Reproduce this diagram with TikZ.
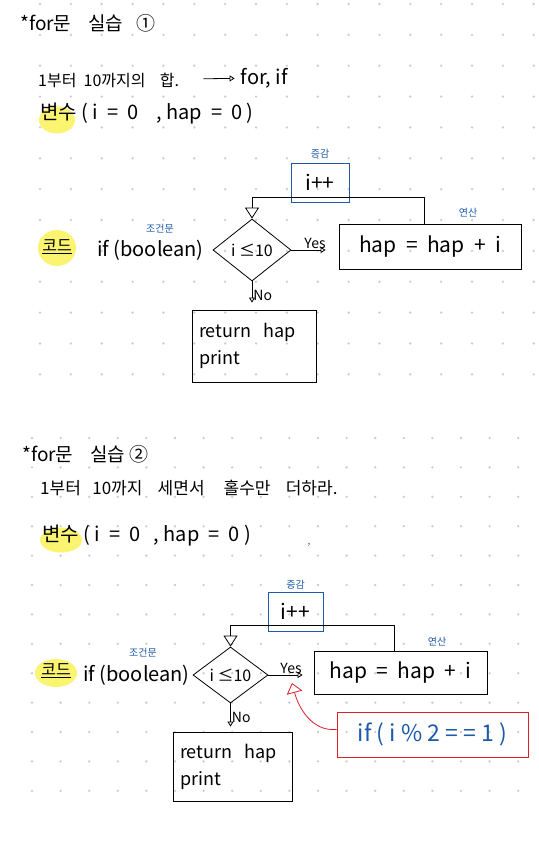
\documentclass[tikz,border=0pt]{standalone}
\usepackage{fontspec}
\setmainfont{Noto Sans CJK KR}
\usetikzlibrary{positioning, arrows.meta, shapes.geometric, backgrounds}
\definecolor{inkBlue}{RGB}{30,90,170}
\definecolor{inkRed}{RGB}{222,32,44}
\definecolor{hlYellow}{RGB}{250,244,112}
\definecolor{gridDot}{RGB}{205,205,205}
\tikzset{
  titleText/.style={font=\fontsize{19}{21}\selectfont, inner sep=0pt},
  handText/.style={font=\fontsize{16}{18}\selectfont, inner sep=0pt},
  codeText/.style={font=\fontsize{20}{22}\selectfont, inner sep=0pt},
  noteLabel/.style={font=\fontsize{10}{11}\selectfont, text=inkBlue, inner sep=0pt},
  edgeText/.style={font=\fontsize{14}{15}\selectfont, inner sep=1pt},
  % Highlighter marks
  hlMark/.style={ellipse, fill=hlYellow, inner sep=0pt},
  % Flowchart boxes
  incBox/.style={draw=inkBlue, thick, font=\fontsize{21}{23}\selectfont, inner sep=0pt},
  decision/.style={draw, thick, diamond, inner sep=0pt, font=\fontsize{16}{18}\selectfont},
  opBox/.style={draw, thick, font=\fontsize{21}{23}\selectfont, inner sep=0pt},
  retBox/.style={draw, thick, align=left, font=\fontsize{18}{27}\selectfont, inner sep=0pt},
  condNote/.style={draw=inkRed, thick, text=inkBlue, font=\fontsize{23}{25}\selectfont, inner sep=0pt},
  % Connectors
  flowLine/.style={thick, line join=round},
  smallTip/.style={-{Triangle[open, length=5pt, width=6pt]}},
  loopTip/.style={-{Triangle[open, length=11pt, width=14pt]}},
  redLink/.style={inkRed, thick, -{Triangle[open, length=10pt, width=16pt]}},
}

\begin{document}
\begin{tikzpicture}[x=1pt, y=-1pt]

  \useasboundingbox (0,0) rectangle (538,853);

  %% ── Dot grid ──
  \begin{scope}[on background layer]
    \fill[white] (0,0) rectangle (538,853);
    \foreach \gx in {0,...,16}
      \foreach \gy in {0,...,12}
        \fill[gridDot] (40+\gx*30.86, 4+\gy*30.86) circle (1.3pt);
    \foreach \gx in {0,...,17}
      \foreach \gy in {0,...,12}
        \fill[gridDot] (32+\gx*28.6, 438+\gy*29.4) circle (1.3pt);
  \end{scope}

  %% ── Exercise 1 ──
  \node[titleText, anchor=west] (titleA) at (20,23) {*for문\ \ \ \ 실습\ \ \ ①};
  \node[handText, anchor=west] (taskA) at (38,80) {1부터\ \ 10까지의\ \ \ \ 합.};
  \node[codeText, anchor=east] (hintA) at (288,78) {for, if};
  \draw[flowLine, smallTip, shorten <=24pt, shorten >=6pt] (taskA) -- (hintA);

  \node[hlMark, minimum width=36pt, minimum height=27pt] (hlVarA) at (57,120) {};
  \node[codeText, anchor=west] (varA) at (40,114) {변수 ( i\ \ =\ \ 0\ \ \ \ , hap\ \ =\ \ 0 )};

  \node[hlMark, minimum width=38pt, minimum height=36pt] (hlCodeA) at (57,248) {};
  \node[handText] (codeA) at (57,247) {\underline{코드}};
  \node[codeText, anchor=west] (ifA) at (97,250) {if (boolean)};
  \node[noteLabel] (ifNoteA) at (160,229) {조건문};

  %% ── Flowchart 1 ──
  \node[incBox, minimum width=58pt, minimum height=39pt] (incA) at (320,182.5) {i++};
  \node[decision, minimum width=78pt, minimum height=62pt] (condA) at (252,250) {i ≤10};
  \node[opBox, minimum width=182pt, minimum height=45pt] (opA) at (430,246.5) {hap\ \ =\ \ hap\ \ +\ \ i};
  \node[retBox, minimum width=124pt, minimum height=72pt, text width=110pt] (retA) at (254,346) {return\ \ hap\\print};
  \node[noteLabel, above=4pt of incA] (incNoteA) {증감};
  \node[noteLabel] (opNoteA) at (468,213) {연산};

  \draw[flowLine, loopTip] ([xshift=-6pt]opA.north) |- ([yshift=5pt]incA.south) -| (condA.north);
  \draw[flowLine, smallTip, shorten >=13pt] (condA.east) -- (condA.east -| opA.west)
    node[edgeText, midway, above] {Yes};
  \draw[flowLine, smallTip, shorten >=7pt] (condA.south) -- (condA.south |- retA.north)
    node[edgeText, midway, right] {No};

  %% ── Exercise 2 ──
  \node[titleText, anchor=west] (titleB) at (22,454) {*for문\ \ \ \ 실습 ②};
  \node[handText, anchor=west, font=\fontsize{17}{19}\selectfont] (taskB) at (40,488) {1부터\ \ \ 10까지\ \ \ \ 세면서\ \ \ \ \ 홀수만\ \ \ \ 더하라.};

  \node[hlMark, minimum width=42pt, minimum height=25pt] (hlVarB) at (61,540) {};
  \node[codeText, anchor=west] (varB) at (42,536) {변수 ( i\ \ =\ \ 0\ \ \ , hap\ \ =\ \ 0 )};
  \node[noteLabel] (dotB) at (309,545) {,};

  \node[hlMark, minimum width=42pt, minimum height=28pt] (hlCodeB) at (56,673) {};
  \node[handText] (codeB) at (56,671) {\underline{코드}};
  \node[codeText, anchor=west] (ifB) at (83,675) {if (boolean)};
  \node[noteLabel] (ifNoteB) at (143,653) {조건문};

  %% ── Flowchart 2 ──
  \node[incBox, minimum width=55pt, minimum height=39pt] (incB) at (295.5,611.5) {i++};
  \node[decision, minimum width=75pt, minimum height=56pt] (condB) at (230.5,675) {i ≤10};
  \node[opBox, minimum width=173pt, minimum height=43pt] (opB) at (400.5,672.5) {hap\ \ =\ \ hap\ \ +\ \ i};
  \node[retBox, minimum width=119pt, minimum height=69pt, text width=105pt] (retB) at (232.5,766.5) {return\ \ hap\\print};
  \node[noteLabel, above=2pt of incB] (incNoteB) {증감};
  \node[noteLabel] (opNoteB) at (437,642) {연산};

  \draw[flowLine, loopTip] ([xshift=-6pt]opB.north) |- ([yshift=6pt]incB.south) -| (condB.north);
  \draw[flowLine, smallTip, shorten >=11pt] (condB.east) -- (condB.east -| opB.west)
    node[edgeText, midway, above] {Yes};
  \draw[flowLine, smallTip, shorten >=5pt] (condB.south) -- (condB.south |- retB.north)
    node[edgeText, midway, right] {No};

  %% ── Odd-number condition ──
  \node[condNote, minimum width=191pt, minimum height=45pt] (noteB) at (432.5,734.5) {if ( i \% 2 = = 1 )};
  \coordinate (yesTipB) at (292,683);
  \draw[redLink] ([yshift=5pt]noteB.west) to[out=185, in=-75] (yesTipB);

\end{tikzpicture}
\end{document}
